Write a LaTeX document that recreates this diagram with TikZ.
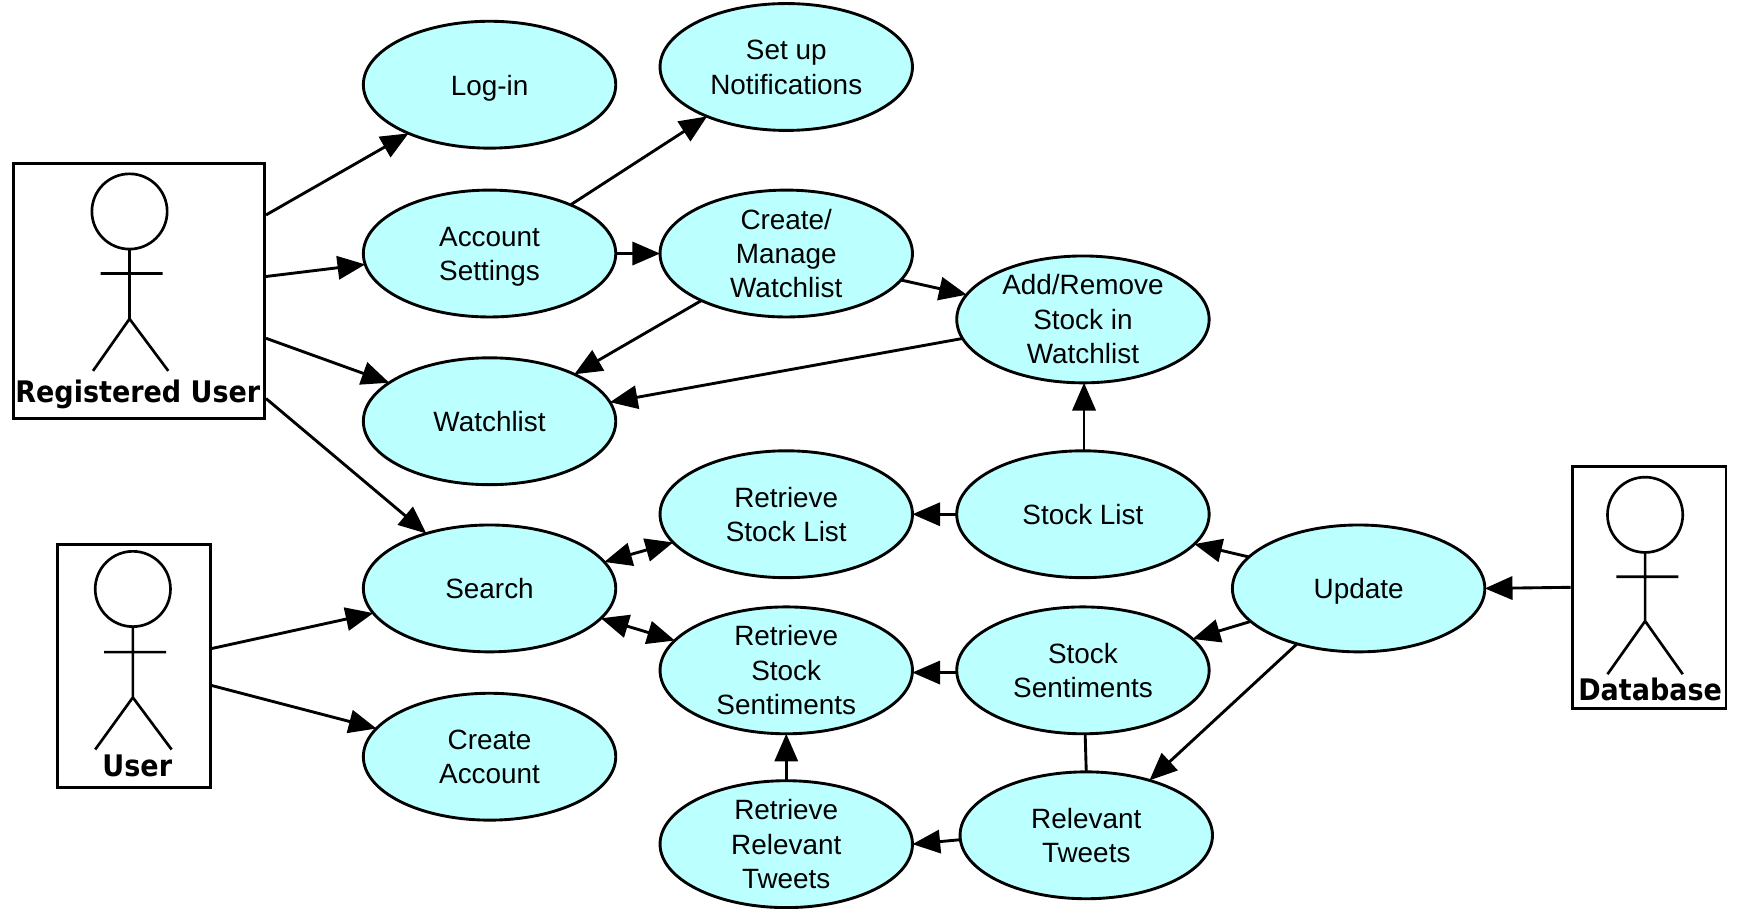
\documentclass[tikz,border=0pt]{standalone}
\usepackage{fontspec}
\setmainfont{Liberation Sans}
\newfontfamily\actorfont[FakeStretch=0.91]{DejaVu Sans}
\usetikzlibrary{shapes.geometric,arrows.meta,calc}
\definecolor{usefill}{HTML}{BBFFFF}
\newcommand{\ucstrut}{\rule[-3.25pt]{0pt}{16pt}}
\newcommand{\firstln}{\rule{0pt}{12.2pt}}
\tikzset{
  usecase/.style={ellipse,draw=black,fill=usefill,line width=1.3pt,outer sep=0pt,minimum width=114pt,minimum height=57.3pt,inner xsep=0pt,inner ysep=-3.4pt,align=center,font=\fontsize{12.6}{15.5}\selectfont,text=black,xshift=0.6pt,yshift=-0.75pt,execute at begin node=\ucstrut,execute at end node=\ucstrut},
  actorbox/.style={rectangle,draw=black,fill=white,line width=1.3pt,inner sep=0pt},
  actorlabel/.style={inner sep=0pt,font=\actorfont\bfseries\fontsize{13.4}{16}\selectfont,text=black},
  figure/.style={draw=black,line width=1.2pt},
  conn/.style={draw=black,line width=1.3pt,-{Triangle[length=12.5pt,width=10.5pt]}},
  conntwo/.style={draw=black,line width=1.3pt,{Triangle[length=12.5pt,width=10.5pt]}-{Triangle[length=12.5pt,width=10.5pt]}},
  plainconn/.style={draw=black,line width=1.3pt},
}
\begin{document}
\begin{tikzpicture}[x=0.5pt,y=-0.5pt]
\useasboundingbox (0,0) rectangle (1569,821);
% actors
\node[actorbox,minimum width=113.5pt,minimum height=115pt] (reg) at (125.5,263) {};
\node[actorbox,minimum width=69pt,minimum height=109.5pt] (usr) at (121,601.5) {};
\node[actorbox,minimum width=69.5pt,minimum height=109.5pt] (db) at (1489.5,530.5) {};
\draw[figure] (117,191) circle [radius=17pt];
\draw[figure] (117,225) -- (117,288) (91,247) -- (147,247) (84,335) -- (117,288) -- (152,335);
\draw[figure] (120,532) circle [radius=17pt];
\draw[figure] (120,566) -- (120,630) (94,589) -- (150,589) (86,677) -- (120,630) -- (155,677);
\draw[figure] (1486,465) circle [radius=17pt];
\draw[figure] (1486,499) -- (1486,561) (1460,521) -- (1516,521) (1452,609) -- (1486,561) -- (1520,609);
\node[actorlabel] (reglabel) at (124.5,356.5) {Registered User};
\node[actorlabel] (usrlabel) at (124,692) {User};
\node[actorlabel] (dblabel) at (1490.5,623) {Database};
% use cases
\node[usecase] (login) at (441,75) {Log-in};
\node[usecase] (setup) at (709,59) {\firstln Set up\\Notifications};
\node[usecase] (account) at (441,227.5) {\firstln Account\\Settings};
\node[usecase] (create) at (709,227.5) {\firstln Create/\\Manage\\Watchlist};
\node[usecase] (addrem) at (977,287) {\firstln Add/Remove\\Stock in\\Watchlist};
\node[usecase] (watch) at (441,379) {Watchlist};
\node[usecase] (rsl) at (709,463) {\firstln Retrieve\\Stock List};
\node[usecase] (slist) at (977,463) {Stock List};
\node[usecase] (search) at (441,530) {Search};
\node[usecase] (update) at (1226,530) {Update};
\node[usecase] (rss) at (709,604) {\firstln Retrieve\\Stock\\Sentiments};
\node[usecase] (ssent) at (977,604) {\firstln Stock\\Sentiments};
\node[usecase] (cacc) at (441,682) {\firstln Create\\Account};
\node[usecase] (rrt) at (709,761) {\firstln Retrieve\\Relevant\\Tweets};
\node[usecase] (rt) at (980,753) {\firstln Relevant\\Tweets};
% free ends on actor boxes
\coordinate (r1) at ($(reg.north east)!.204!(reg.south east)$);
\coordinate (r2) at ($(reg.north east)!.443!(reg.south east)$);
\coordinate (r3) at ($(reg.north east)!.683!(reg.south east)$);
\coordinate (r4) at ($(reg.north east)!.917!(reg.south east)$);
\coordinate (u1) at ($(usr.north east)!.429!(usr.south east)$);
\coordinate (u2) at ($(usr.north east)!.58!(usr.south east)$);
% connectors
\draw[conn] (r1) -- (login.211.3);
\draw[conn] (r2) -- (account.185.8);
\draw[conn] (r3) -- (watch.159.7);
\draw[conn] (r4) -- (search.139.2);
\draw[conn] (u1) -- (search.192.8);
\draw[conn] (u2) -- (cacc.166);
\draw[conn] (account.31.7) -- (setup.212.2);
\draw[conn] (account.east) -- (create.west);
\draw[conn] (create.347.3) -- (addrem.168.2);
\draw[conn] (create.209.5) -- (watch.29.7);
\draw[conn] (addrem.189.9) -- (watch.9.1);
\draw[conn] (slist.89) -- (addrem.271);
\draw[conn] (slist.west) -- (rsl.east);
\draw[conn] (update.164.7) -- (slist.345.4);
\draw[conn] (update.197.2) -- (ssent.16.5);
\draw[conn] (update.222.3) -- (rt.41.3);
\draw[plainconn] (ssent.272) -- (rt.90.5);
\draw[conn] (rt.182.5) -- (rrt.east);
\draw[conn] (ssent.181) -- (rss.359);
\draw[conn] (rrt.north) -- (rss.south);
\draw[conntwo] (search.13.4) -- (rsl.194.3);
\draw[conntwo] (search.345.2) -- (rss.165);
\draw[conn] (db.west) -- (update.east);
\end{tikzpicture}
\end{document}
